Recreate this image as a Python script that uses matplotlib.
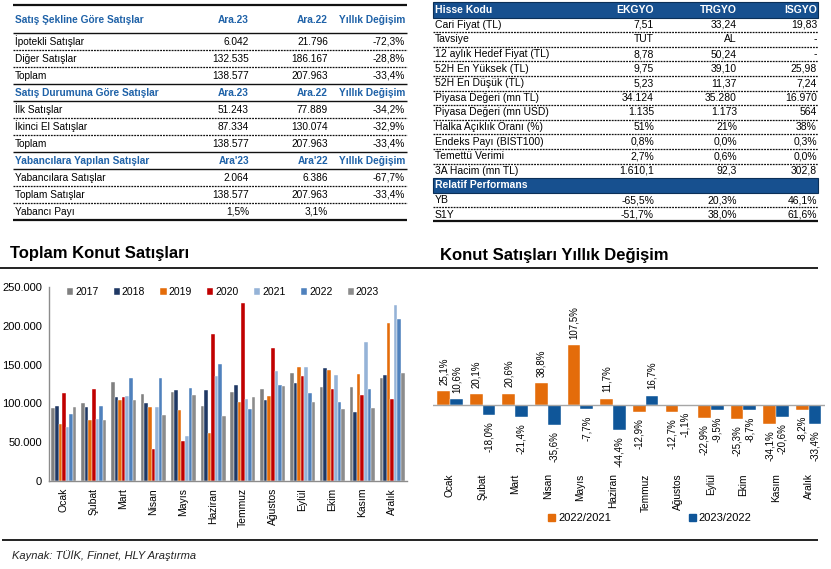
import numpy as np
import matplotlib
matplotlib.use("Agg")
import matplotlib.pyplot as plt
from matplotlib.ticker import FuncFormatter
from matplotlib.patches import Patch, Rectangle

plt.rcParams["font.family"] = ["Liberation Sans", "DejaVu Sans"]

# ============================================
# DATA
# ============================================

months = ["Ocak", "Şubat", "Mart", "Nisan", "Mayıs", "Haziran",
          "Temmuz", "Ağustos", "Eylül", "Ekim", "Kasım", "Aralık"]

years = ["2017", "2018", "2019", "2020", "2021", "2022", "2023"]
sales_2017 = [94709, 100547, 127311, 111751, 114584, 96742, 114307, 118798, 139682, 121542, 121132, 132337]
sales_2018 = [96321, 95092, 108819, 101121, 117767, 116930, 123128, 103826, 126603, 146258, 88442, 136517]
sales_2019 = [72937, 78058, 104345, 95057, 91186, 61426, 101589, 109305, 146794, 143046, 138021, 203426]
sales_2020 = [113095, 118753, 108670, 41633, 50936, 190012, 229357, 170898, 135826, 118824, 110544, 105476]
sales_2021 = [69049, 80309, 110014, 95175, 57941, 134770, 106184, 141138, 146788, 136121, 179006, 227262]
sales_2022 = [86397, 96582, 132500, 132103, 120228, 150538, 92486, 123213, 113174, 101686, 117965, 208626]
sales_2023 = [95520, 79197, 104145, 84908, 110991, 83683, 107972, 121881, 102443, 92846, 93660, 138577]

chg_22_21 = [25.1, 20.1, 20.6, 38.8, 107.5, 11.7, -12.9, -12.7, -22.9, -25.3, -34.1, -8.2]
chg_23_22 = [10.6, -18.0, -21.4, -35.6, -7.7, -44.4, 16.7, -1.1, -9.5, -8.7, -20.6, -33.4]

# left table
sec1_header = ["Satış Şekline Göre Satışlar", "Ara.23", "Ara.22", "Yıllık Değişim"]
sec1_rows = [["İpotekli Satışlar", "6.042", "21.796", "-72,3%"],
             ["Diğer Satışlar", "132.535", "186.167", "-28,8%"],
             ["Toplam", "138.577", "207.963", "-33,4%"]]
sec2_header = ["Satış Durumuna Göre Satışlar", "Ara.23", "Ara.22", "Yıllık Değişim"]
sec2_rows = [["İlk Satışlar", "51.243", "77.889", "-34,2%"],
             ["İkinci El Satışlar", "87.334", "130.074", "-32,9%"],
             ["Toplam", "138.577", "207.963", "-33,4%"]]
sec3_header = ["Yabancılara Yapılan Satışlar", "Ara'23", "Ara'22", "Yıllık Değişim"]
sec3_rows = [["Yabancılara Satışlar", "2.064", "6.386", "-67,7%"],
             ["Toplam Satışlar", "138.577", "207.963", "-33,4%"],
             ["Yabancı Payı", "1,5%", "3,1%", ""]]

# right table
stock_header = ["Hisse Kodu", "EKGYO", "TRGYO", "ISGYO"]
stock_labels = ["Cari Fiyat (TL)", "Tavsiye", "12 aylık Hedef Fiyat (TL)", "52H En Yüksek (TL)",
                "52H En Düşük (TL)", "Piyasa Değeri (mn TL)", "Piyasa Değeri (mn USD)",
                "Halka Açıklık Oranı (%)", "Endeks Payı (BIST100)", "Temettü Verimi", "3A Hacim (mn TL)"]
ekgyo = ["7,51", "TUT", "8,78", "9,75", "5,23", "34.124", "1.135", "51%", "0,8%", "2,7%", "1.610,1"]
trgyo = ["33,24", "AL", "50,24", "39,10", "11,37", "35.280", "1.173", "21%", "0,0%", "0,6%", "92,3"]
isgyo = ["19,83", "-", "-", "25,98", "7,24", "16.970", "564", "38%", "0,3%", "0,0%", "302,8"]
perf_labels = ["YB", "S1Y"]
perf_ekgyo = ["-65,5%", "-51,7%"]
perf_trgyo = ["20,3%", "38,0%"]
perf_isgyo = ["46,1%", "61,6%"]

# ============================================
# FIGURE + PIXEL OVERLAY
# ============================================

W, H = 831, 569
fig = plt.figure(figsize=(W / 100, H / 100), dpi=100)
bg = fig.add_axes([0, 0, 1, 1])
bg.set_xlim(0, W)
bg.set_ylim(H, 0)
bg.axis("off")

BLUE_TXT = "#1F62A8"
DASH = (0, (1.5, 0.8))


def hline(x0, x1, y, lw=0.8, ls="-", color="#111111"):
    bg.plot([x0, x1], [y, y], color=color, lw=lw, ls=ls, solid_capstyle="butt")


# ---- left table ----
lx0, lx1 = 13, 407
col_r = [249, 328, 405]
fs_tab = 7.3


def row_text(cells, y, bold=False, color="black"):
    w = "bold" if bold else "normal"
    bg.text(15, y, cells[0], ha="left", va="center", fontsize=fs_tab, fontweight=w, color=color)
    for c, xr in zip(cells[1:], col_r):
        bg.text(xr, y, c, ha="right", va="center", fontsize=fs_tab, fontweight=w, color=color)


hline(lx0, lx1, 5, lw=1.6)
row_text(sec1_header, 19.5, bold=True, color=BLUE_TXT)
hline(lx0, lx1, 33, lw=1.0)
y = 33
for sec_i, (hdr, rows) in enumerate([(None, sec1_rows), (sec2_header, sec2_rows), (sec3_header, sec3_rows)]):
    if hdr is not None:
        row_text(hdr, y + 8.5, bold=True, color=BLUE_TXT)
        y += 17
        hline(lx0, lx1, y, lw=1.0)
    for j, r in enumerate(rows):
        row_text(r, y + 8.5)
        y += 17
        if j < len(rows) - 1:
            hline(lx0, lx1, y, lw=0.9, ls=DASH)
        elif sec_i < 2:
            hline(lx0, lx1, y, lw=1.0)
hline(lx0, lx1, 220, lw=1.6)

# ---- right table ----
rx0, rx1 = 433, 818
rcol_r = [654, 737, 817]
fs_r = 7.5
HDR_BLUE = "#17508F"


def rrow(cells, y, bold=False, color="black"):
    w = "bold" if bold else "normal"
    bg.text(435, y, cells[0], ha="left", va="center", fontsize=fs_r, fontweight=w, color=color)
    for c, xr in zip(cells[1:], rcol_r):
        bg.text(xr, y, c, ha="right", va="center", fontsize=fs_r, fontweight=w, color=color)


bg.add_patch(Rectangle((rx0, 2), rx1 - rx0, 15.5, facecolor=HDR_BLUE, edgecolor="#0b2f57", lw=0.8))
rrow(stock_header, 9.8, bold=True, color="white")
rh = 14.6
y = 17.5
for i, lab in enumerate(stock_labels):
    rrow([lab, ekgyo[i], trgyo[i], isgyo[i]], y + rh / 2)
    y += rh
    if i < len(stock_labels) - 1:
        hline(rx0, rx1, y, lw=0.9, ls=DASH)
bg.add_patch(Rectangle((rx0, y), rx1 - rx0, rh, facecolor=HDR_BLUE, edgecolor="#0b2f57", lw=0.8))
bg.text(435, y + rh / 2, "Relatif Performans", ha="left", va="center",
        fontsize=fs_r, fontweight="bold", color="white")
y += rh
for i, lab in enumerate(perf_labels):
    rrow([lab, perf_ekgyo[i], perf_trgyo[i], perf_isgyo[i]], y + rh / 2)
    y += rh
    if i == 0:
        hline(rx0, rx1, y, lw=0.9, ls=DASH)
hline(rx0, rx1, 221, lw=1.6)

# ---- titles, separators, source ----
bg.text(10, 253, "Toplam Konut Satışları", ha="left", va="center", fontsize=12, fontweight="bold")
bg.text(440, 255, "Konut Satışları Yıllık Değişim", ha="left", va="center", fontsize=12, fontweight="bold")
hline(0, 420, 268, lw=1.4, color="#222222")
hline(420, 818, 268, lw=1.4, color="#222222")
hline(2, 818, 540, lw=1.4, color="#222222")
bg.text(12, 556, "Kaynak: TÜİK, Finnet, HLY Araştırma", ha="left", va="center",
        fontsize=8, style="italic", color="#222222")

# ============================================
# LEFT CHART — monthly sales by year
# ============================================

series = [sales_2017, sales_2018, sales_2019, sales_2020, sales_2021, sales_2022, sales_2023]
colors = ["#808080", "#1F3864", "#E46C0A", "#C00000", "#95B3D7", "#4F81BD", "#8C8C8C"]

axL = fig.add_axes([49 / W, 1 - 481 / H, 358 / W, 194 / H])
x = np.arange(len(months))
bw = 0.12
for k, (yr, vals) in enumerate(zip(years, series)):
    axL.bar(x + (k - 3) * bw, vals, bw, color=colors[k], edgecolor="white", linewidth=0.3, label=yr)
axL.set_xlim(-0.5, 11.5)
axL.set_ylim(0, 250000)
axL.set_yticks(np.arange(0, 250001, 50000))
axL.yaxis.set_major_formatter(FuncFormatter(lambda v, p: f"{int(v):,}".replace(",", ".")))
axL.set_xticks(x)
axL.set_xticklabels(months, rotation=90, fontsize=7.5)
axL.tick_params(axis="y", length=0, labelsize=8, pad=5)
axL.tick_params(axis="x", length=0, pad=5)
for s in ["top", "right"]:
    axL.spines[s].set_visible(False)
for s in ["left", "bottom"]:
    axL.spines[s].set_color("#8C8C8C")
    axL.spines[s].set_linewidth(1.0)
axL.patch.set_alpha(0)
axL.legend(loc="upper left", bbox_to_anchor=(0.05, 1.0), ncol=7, frameon=False,
           fontsize=7.5, handlelength=0.6, handleheight=0.6, handletextpad=0.2,
           columnspacing=1.45, borderpad=0, borderaxespad=0)

# ============================================
# RIGHT CHART — yearly change
# ============================================

ORANGE = "#E46C0A"
NAVY = "#0F5699"

axR = fig.add_axes([433 / W, 1 - 466.4 / H, 392 / W, 133.9 / H])
bwr = 0.39
axR.bar(x - bwr / 2, chg_22_21, bwr, color=ORANGE, edgecolor="white", linewidth=0.3, label="2022/2021")
axR.bar(x + bwr / 2, chg_23_22, bwr, color=NAVY, edgecolor="white", linewidth=0.3, label="2023/2022")
axR.axhline(0, color="#A6A6A6", lw=1.0)
for vals, off in [(chg_22_21, -bwr / 2), (chg_23_22, bwr / 2)]:
    for i, v in enumerate(vals):
        txt = f"{v:.1f}%".replace(".", ",")
        axR.annotate(txt, (i + off, v), xytext=(0, 4.5 if v >= 0 else -4.5), textcoords="offset points",
                     rotation=90, ha="center", va="bottom" if v >= 0 else "top", fontsize=7)
axR.set_xlim(-0.52, 11.5)
axR.set_ylim(-110, 130)
axR.set_xticks(x)
axR.set_xticklabels(months, rotation=90, fontsize=7.3)
axR.tick_params(axis="x", length=0, pad=5)
axR.set_yticks([])
for s in axR.spines.values():
    s.set_visible(False)
axR.patch.set_alpha(0)

handles = [Patch(color=ORANGE, label="2022/2021"), Patch(color=NAVY, label="2023/2022")]
fig.legend(handles=handles, loc="center", bbox_to_anchor=(650 / W, 1 - 518 / H), ncol=2,
           frameon=False, fontsize=8, handlelength=0.6, handleheight=0.6, handletextpad=0.3,
           columnspacing=7.0)

fig.savefig("out.png", dpi=100)
plt.close(fig)
